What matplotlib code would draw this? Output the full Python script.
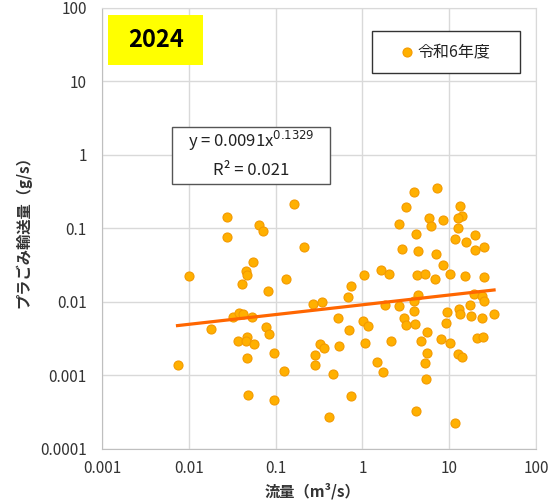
import matplotlib
matplotlib.use("Agg")
import matplotlib.pyplot as plt
from matplotlib.patches import Rectangle
import numpy as np

plt.rcParams['font.family'] = ['Noto Sans CJK JP', 'DejaVu Sans']
plt.rcParams['mathtext.fontset'] = 'dejavusans'

# flow (m3/s) and plastic transport (g/s)
flow = [
    0.161, 0.0276, 0.0645, 0.0717, 0.0276, 0.210, 0.0550, 0.0452, 0.0469, 0.0100,
    0.132, 0.0407, 0.0809, 0.273, 0.344, 0.0324, 0.0380, 0.0422, 0.0530, 0.0179,
    0.0782, 0.0840, 0.0469, 0.0370, 0.0452, 0.0569, 0.329, 0.363, 0.0959, 0.281,
    0.0464, 0.00741, 0.281, 0.124, 0.0477, 0.0959, 0.407,
    7.28, 3.90, 13.5, 3.20, 14.1, 5.89, 8.53, 12.6, 6.16, 2.62,
    12.6, 4.14, 20.1, 11.8, 15.8, 25.3, 19.9, 2.88, 4.40, 6.98,
    8.53, 1.65, 2.03, 1.05, 4.25, 5.26, 6.79, 10.1, 15.4, 25.0,
    0.736, 0.690, 4.40, 19.2, 23.9, 25.3, 17.2, 1.82, 2.62, 3.90,
    3.93, 9.41, 13.0, 13.5, 17.8, 23.6, 32.9, 0.526, 3.02, 1.01,
    1.16, 3.20, 4.06, 9.16, 0.709, 5.59, 0.544, 1.08, 2.15, 4.73,
    8.03, 10.1, 20.8, 24.6, 5.59, 12.6, 14.1, 5.26, 1.46, 1.72,
    0.464, 5.40, 0.736, 4.14, 11.8,
]
transport = [
    0.211, 0.143, 0.110, 0.0933, 0.0766, 0.0565, 0.0343, 0.0261, 0.0230, 0.0221,
    0.0206, 0.0176, 0.0139, 0.00919, 0.00988, 0.00625, 0.00700, 0.00678, 0.00617, 0.00433,
    0.00457, 0.00359, 0.00334, 0.00295, 0.00295, 0.00265, 0.00265, 0.00234, 0.00202, 0.00186,
    0.00171, 0.00137, 0.00137, 0.00116, 0.000531, 0.000458, 0.000267,
    0.352, 0.310, 0.204, 0.196, 0.149, 0.139, 0.128, 0.137, 0.109, 0.115,
    0.102, 0.0841, 0.0805, 0.0711, 0.0661, 0.0565, 0.0504, 0.0526, 0.0488, 0.0450,
    0.0318, 0.0272, 0.0240, 0.0230, 0.0233, 0.0240, 0.0206, 0.0240, 0.0223, 0.0214,
    0.0163, 0.0116, 0.0122, 0.0128, 0.0119, 0.0101, 0.00910, 0.00910, 0.00883, 0.0101,
    0.00755, 0.00722, 0.00786, 0.00687, 0.00637, 0.00593, 0.00672, 0.00593, 0.00598, 0.00551,
    0.00471, 0.00486, 0.00491, 0.00512, 0.00416, 0.00386, 0.00254, 0.00273, 0.00295, 0.00295,
    0.00307, 0.00273, 0.00317, 0.00330, 0.00200, 0.00196, 0.00179, 0.00148, 0.00153, 0.00112,
    0.00104, 0.000885, 0.000515, 0.000322, 0.000226,
]

# power trendline y = a * x^b shown on the chart
fit_a = 0.0091
fit_b = 0.1329
fit_r2 = 0.021

x_ticks = [0.001, 0.01, 0.1, 1, 10, 100]
x_tick_labels = ["0.001", "0.01", "0.1", "1", "10", "100"]
y_ticks = [0.0001, 0.001, 0.01, 0.1, 1, 10, 100]
y_tick_labels = ["0.0001", "0.001", "0.01", "0.1", "1", "10", "100"]

series_label = "令和6年度"
year_label = "2024"

fig = plt.figure(figsize=(5.5, 5.03), dpi=100)
ax = fig.add_axes([0.1855, 0.1078, 0.789, 0.8767])

ax.set_xscale('log')
ax.set_yscale('log')
ax.set_xlim(x_ticks[0], x_ticks[-1])
ax.set_ylim(y_ticks[0], y_ticks[-1])
ax.set_xticks(x_ticks)
ax.set_xticklabels(x_tick_labels)
ax.set_yticks(y_ticks)
ax.set_yticklabels(y_tick_labels)
ax.minorticks_off()
ax.tick_params(axis='both', length=0, labelsize=11, colors='#333333')
ax.tick_params(axis='y', pad=11)
ax.tick_params(axis='x', pad=8)

ax.grid(True, color='#D9D9D9', linewidth=1)
ax.set_axisbelow(True)
for side in ['left', 'bottom']:
    ax.spines[side].set_color('#BFBFBF')
for side in ['top', 'right']:
    ax.spines[side].set_color('#D9D9D9')

ax.plot(flow, transport, linestyle='none', marker='o', markersize=6.5,
        markerfacecolor='#FFB000', markeredgecolor='#F39A00', markeredgewidth=0.8,
        zorder=3)

# trendline over the range of the data
xs = np.geomspace(min(flow), max(flow), 50)
ax.plot(xs, fit_a * xs ** fit_b, color='#FF6600', linewidth=2.3, zorder=4)

ax.set_xlabel("流量（m³/s）", fontsize=11, fontweight='bold', color='#333333')
ax.xaxis.set_label_coords(0.486, -0.077)
ax.set_ylabel("プラごみ輸送量（g/s）", fontsize=11, fontweight='bold', color='#333333', labelpad=6)

# year badge
ax.add_patch(Rectangle((0.014, 0.870), 0.219, 0.114, transform=ax.transAxes,
                       facecolor='#FFFF00', edgecolor='none', zorder=5, clip_on=False))
ax.text(0.1235, 0.927, year_label, transform=ax.transAxes, ha='center', va='center',
        fontsize=17, fontweight='bold', color='black', zorder=6)

# legend box
ax.add_patch(Rectangle((0.622, 0.852), 0.341, 0.095, transform=ax.transAxes,
                       facecolor='white', edgecolor='#333333', linewidth=1, zorder=5))
ax.plot([0.703], [0.8995], transform=ax.transAxes, linestyle='none', marker='o',
        markersize=6.5, markerfacecolor='#FFB000', markeredgecolor='#F39A00',
        markeredgewidth=0.8, zorder=6, clip_on=False)
ax.text(0.726, 0.8995, series_label, transform=ax.transAxes, ha='left', va='center',
        fontsize=11.5, color='#222222', zorder=6)

# equation box
ax.add_patch(Rectangle((0.161, 0.600), 0.364, 0.130, transform=ax.transAxes,
                       facecolor='white', edgecolor='#555555', linewidth=1, zorder=5))
ax.text(0.343, 0.698, f"y = {fit_a}x$^{{{fit_b}}}$", transform=ax.transAxes,
        ha='center', va='center', fontsize=12, color='#222222', zorder=6)
ax.text(0.343, 0.632, f"R² = {fit_r2}", transform=ax.transAxes,
        ha='center', va='center', fontsize=12, color='#222222', zorder=6)

fig.savefig("out.png", dpi=100)
